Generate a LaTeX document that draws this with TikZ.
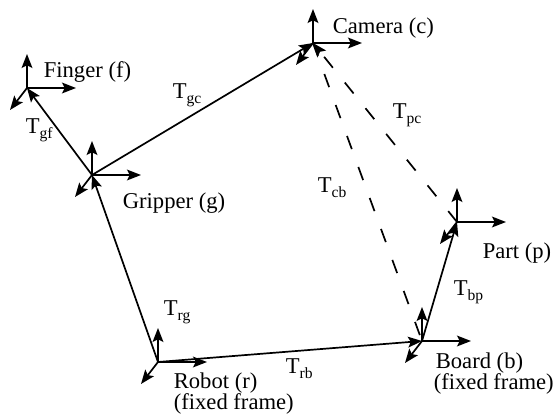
\documentclass[tikz,border=0pt]{standalone}
\usepackage{fontspec}
\setmainfont{Liberation Serif}
\usetikzlibrary{arrows.meta}
\newcommand\Tsub[1]{T\raisebox{-2.6pt}{\fontsize{7.8}{8}\selectfont #1}}
\newcommand\frameat[3]{%
  \coordinate (#1) at (#2,#3);
  \draw[arrowed] (#1) -- ++(0,-34);
  \draw[arrowed] (#1) -- ++(49,0);
  \draw[arrowed] (#1) -- ++(-17,22);
}
\begin{document}
\begin{tikzpicture}[x=0.5pt,y=-0.5pt,
  line width=0.85pt,
  arrowed/.style={-{Stealth[length=7pt,width=5.4pt,inset=1.4pt]}},
  link/.style={arrowed},
  dlink/.style={dash pattern=on 7pt off 9.5pt},
  lbl/.style={anchor=base west, inner sep=0pt, font=\fontsize{11.3}{13}\selectfont},
]
\useasboundingbox (0,0) rectangle (553,418);

% frames
\frameat{finger}{27}{88}
\frameat{gripper}{92}{175}
\frameat{camera}{313}{43}
\frameat{part}{457}{222}
\frameat{board}{422}{341}
\frameat{robot}{158}{362}

% connectors
\draw[link] (robot) -- (gripper);
\draw[link] (gripper) -- (finger);
\draw[link] (gripper) -- (camera);
\draw[link] (robot) -- (board);
\draw[link] (board) -- (part);
\draw[dlink,arrowed] (part) -- (camera);
\draw[dlink] (camera) -- (board);

% frame labels
\node[lbl] (fingerlbl) at (43,77) {Finger (f)};
\node[lbl] (gripperlbl) at (122,208) {Gripper (g)};
\node[lbl] (cameralbl) at (332,33) {Camera (c)};
\node[lbl] (partlbl) at (482,258) {Part (p)};
\node[lbl] (boardlbl) at (435,368) {Board (b)};
\node[lbl] (boardfix) at (433,389) {(fixed frame)};
\node[lbl] (robotlbl) at (173,388) {Robot (r)};
\node[lbl] (robotfix) at (173,409) {(fixed frame)};

% transform labels
\node[lbl] (tgf) at (25,133) {\Tsub{gf}};
\node[lbl] (tgc) at (172,98) {\Tsub{gc}};
\node[lbl] (tpc) at (392,118) {\Tsub{pc}};
\node[lbl] (tcb) at (317,192) {\Tsub{cb}};
\node[lbl] (tbp) at (453,295) {\Tsub{bp}};
\node[lbl] (trg) at (163,315) {\Tsub{rg}};
\node[lbl] (trb) at (285,373) {\Tsub{rb}};
\end{tikzpicture}
\end{document}
